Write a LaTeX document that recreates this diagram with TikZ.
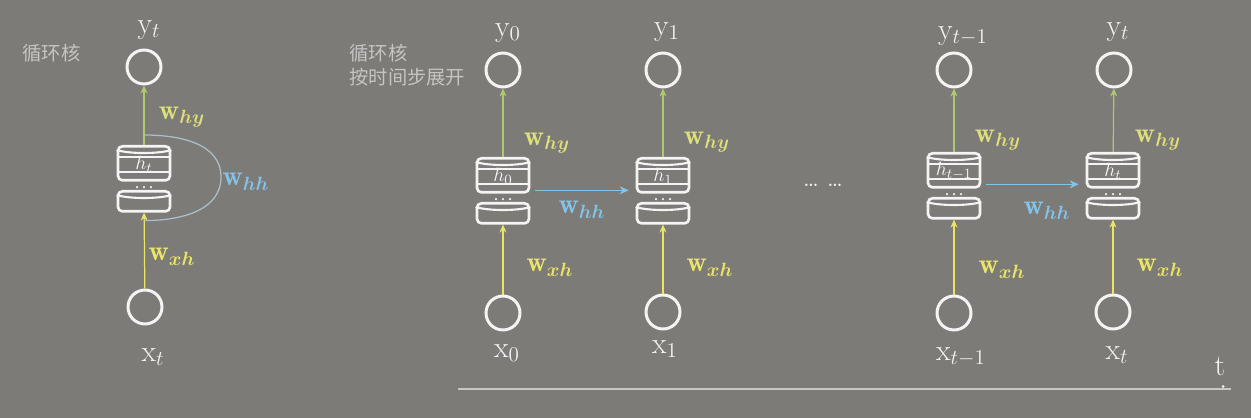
\documentclass[tikz,border=0pt]{standalone}
\usepackage{fontspec}
\newfontfamily\cjk{Noto Sans CJK SC}
\usetikzlibrary{arrows.meta}
\definecolor{bg}{RGB}{125,123,120}
\definecolor{fg}{RGB}{244,244,244}
\definecolor{ylw}{RGB}{234,230,100}
\definecolor{ygr}{RGB}{222,224,120}
\definecolor{gline}{RGB}{176,200,112}
\definecolor{lblue}{RGB}{130,196,232}
\definecolor{loopc}{RGB}{172,192,200}
\definecolor{cjkgray}{RGB}{196,196,194}
\tikzset{
  neuron/.style={circle, draw=fg, line width=1.7pt, minimum size=0.68cm, inner sep=0pt},
  lbl/.style={text=fg, font=\fontsize{17}{20}\selectfont, inner sep=0pt},
  wlbl/.style={font=\fontsize{16}{19}\selectfont\boldmath, inner sep=0pt},
  cyl/.style={draw=fg, line width=1.5pt, rounded corners=2.5pt, minimum width=1.04cm, inner sep=0pt},
  cylline/.style={draw=fg, line width=1.2pt},
  inarrow/.style={draw=ylw, line width=0.7pt, -{Stealth[length=0.16cm,width=0.14cm]}},
  outarrow/.style={draw=gline, line width=0.7pt, -{Stealth[length=0.16cm,width=0.14cm,fill=ygr]}},
  hharrow/.style={draw=lblue, line width=0.6pt, -{Stealth[length=0.18cm,width=0.16cm]}},
  cjktext/.style={text=cjkgray, font=\cjk\fontsize{11}{13.6}\selectfont, inner sep=0pt, align=left}
}
% #1 name, #2 x, #3 top, #4 hidden-state subscript
\newcommand{\rnncell}[4]{%
  \node[cyl, minimum height=0.68cm, anchor=north] (#1u) at (#2,#3) {};
  \draw[cylline] ([yshift=-0.1cm]#1u.north west) .. controls +(12,4) and +(-12,4) .. ([yshift=-0.1cm]#1u.north east);
  \draw[cylline] ([xshift=0.05cm,yshift=-0.24cm]#1u.north west) -- ([xshift=-0.05cm,yshift=-0.24cm]#1u.north east);
  \draw[cylline] ([xshift=0.05cm,yshift=-0.54cm]#1u.north west) -- ([xshift=-0.05cm,yshift=-0.54cm]#1u.north east);
  \node[text=fg, font=\fontsize{11}{11}\selectfont, inner sep=0pt] (#1h) at ([yshift=-0.39cm]#1u.north) {$h_{#4}$};
  \fill[fg] ([xshift=-0.14cm,yshift=-0.11cm]#1u.south) circle (0.025cm);
  \fill[fg] ([yshift=-0.11cm]#1u.south) circle (0.025cm);
  \fill[fg] ([xshift=0.14cm,yshift=-0.11cm]#1u.south) circle (0.025cm);
  \node[cyl, minimum height=0.4cm, anchor=north] (#1l) at (#2,{#3+45}) {};
  \draw[cylline] ([yshift=-0.1cm]#1l.north west) .. controls +(12,4) and +(-12,4) .. ([yshift=-0.1cm]#1l.north east);
}
\begin{document}
\begin{tikzpicture}[x={(0.02cm,0)}, y={(0,-0.02cm)}]
\fill[bg] (0,0) rectangle (1251,418);
\useasboundingbox (0,0) rectangle (1251,418);

% ---------- folded cell ----------
\node[cjktext, anchor=west] (fold) at (22,53) {循环核};
\node[neuron] (yL) at (144,67) {};
\node[neuron] (xL) at (145,307) {};
\rnncell{L}{144}{145}{t}
\node[lbl] (yLl) at (149,30) {$\mathrm{y}_t$};
\node[lbl] (xLl) at (153,357) {$\mathrm{x}_t$};
\draw[inarrow] (xL) -- (Ll);
\draw[outarrow] (Lu) -- (yL);
\coordinate (loopR) at (221,177);
\draw[loopc, line width=0.7pt] ([yshift=0.2cm]Lu.north) to[out=0,in=90] (loopR) to[out=-90,in=0] ([yshift=-0.16cm]Ll.south);
\node[wlbl, text=ygr] (LWhy) at (182,117) {$\mathrm{w}_{hy}$};
\node[wlbl, text=ylw] (LWxh) at (172,257) {$\mathrm{w}_{xh}$};
\node[wlbl, text=lblue] (LWhh) at (246,182) {$\mathrm{w}_{hh}$};

% ---------- unrolled ----------
\node[cjktext, anchor=north west] (unroll) at (349,44) {循环核\\按时间步展开};

% step 0
\node[neuron] (y0) at (503,70) {};
\node[neuron] (x0) at (503,313) {};
\rnncell{A}{503}{157}{0}
\node[lbl] (y0l) at (508,33) {$\mathrm{y}_0$};
\node[lbl] (x0l) at (507,353) {$\mathrm{x}_0$};
\draw[inarrow] (x0) -- (Al);
\draw[outarrow] (Au) -- (y0);
\node[wlbl, text=ygr] (AWhy) at (547,143) {$\mathrm{w}_{hy}$};
\node[wlbl, text=ylw] (AWxh) at (550,268) {$\mathrm{w}_{xh}$};

% step 1
\node[neuron] (y1) at (663,70) {};
\node[neuron] (x1) at (663,312) {};
\rnncell{B}{663}{157}{1}
\node[lbl] (y1l) at (667,32) {$\mathrm{y}_1$};
\node[lbl] (x1l) at (665,349) {$\mathrm{x}_1$};
\draw[inarrow] (x1) -- (Bl);
\draw[outarrow] (Bu) -- (y1);
\node[wlbl, text=ygr] (BWhy) at (707,142) {$\mathrm{w}_{hy}$};
\node[wlbl, text=ylw] (BWxh) at (710,268) {$\mathrm{w}_{xh}$};

\draw[hharrow, shorten <=0.1cm, shorten >=0.14cm] ([yshift=-0.3cm]Au.east) -- ([yshift=-0.3cm]Bu.west);
\node[wlbl, text=lblue] (ABWhh) at (582,210) {$\mathrm{w}_{hh}$};

\node[text=fg, font=\fontsize{14}{16}\selectfont, inner sep=0pt] (dots) at (823,185) {\dots\ \dots};

% step t-1
\node[neuron] (yC) at (954,70) {};
\node[neuron] (xC) at (954,313) {};
\rnncell{C}{954}{152}{t-1}
\node[lbl] (yCl) at (963,36) {$\mathrm{y}_{t-1}$};
\node[lbl] (xCl) at (961,357) {$\mathrm{x}_{t-1}$};
\draw[inarrow] (xC) -- (Cl);
\draw[outarrow] (Cu) -- (yC);
\node[wlbl, text=ygr] (CWhy) at (998,140) {$\mathrm{w}_{hy}$};
\node[wlbl, text=ylw] (CWxh) at (1002,270) {$\mathrm{w}_{xh}$};

% step t
\node[neuron] (yD) at (1114,70) {};
\node[neuron] (xD) at (1113,312) {};
\rnncell{D}{1113}{152}{t}
\node[lbl] (yDl) at (1118,32) {$\mathrm{y}_t$};
\node[lbl] (xDl) at (1117,355) {$\mathrm{x}_t$};
\draw[inarrow] (xD) -- (Dl);
\draw[outarrow] (Du) -- (yD);
\node[wlbl, text=ygr] (DWhy) at (1158,140) {$\mathrm{w}_{hy}$};
\node[wlbl, text=ylw] (DWxh) at (1160,268) {$\mathrm{w}_{xh}$};

\draw[hharrow, shorten <=0.1cm, shorten >=0.14cm] ([yshift=-0.28cm]Cu.east) -- ([yshift=-0.28cm]Du.west);
\node[wlbl, text=lblue] (CDWhh) at (1047,211) {$\mathrm{w}_{hh}$};

% time axis
\coordinate (tstart) at (458,389);
\coordinate (tend) at (1231,389);
\draw[draw={rgb,255:red,200;green,200;blue,198}, line width=0.8pt] (tstart) -- (tend);
\fill[fg] ([xshift=-0.16cm,yshift=0.05cm]tend) circle (0.03cm);
\node[lbl] (tl) at (1220,366) {t};
\end{tikzpicture}
\end{document}
